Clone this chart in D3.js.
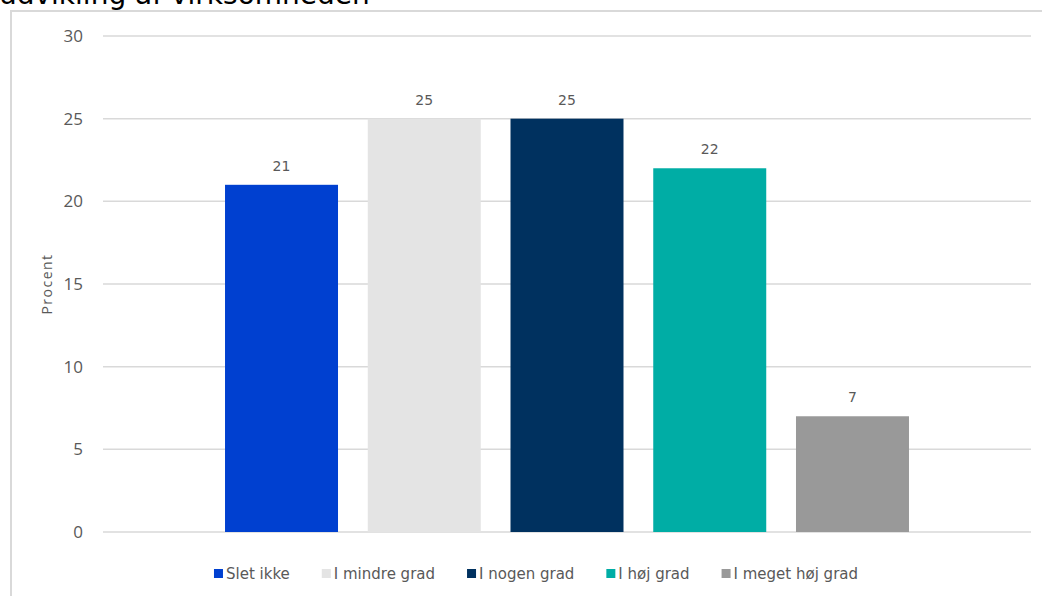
<!DOCTYPE html>
<html><head><meta charset="utf-8">
<script src="https://cdn.jsdelivr.net/npm/d3@7"></script>
<style>body{margin:0;background:#fff}svg{display:block}</style>
</head><body>
<script>
const titleText = "udvikling af virksomheden";
const seriesNames = ["Slet ikke","I mindre grad","I nogen grad","I høj grad","I meget høj grad"];
const seriesValues = [21,25,25,22,7];
const seriesColors = ["#0040D0","#E4E4E4","#00315F","#00ADA5","#999999"];
const yTicks = [0,5,10,15,20,25,30];
const yLabel = "Procent";

(function(){
const W=1042,H=596;
const svg=d3.select("body").append("svg").attr("width",W).attr("height",H);

svg.append("rect").attr("x",11).attr("y",11).attr("width",1100).attr("height",700)
  .attr("fill","#fff").attr("stroke","#d9d9d9").attr("stroke-width",2);

svg.append("text").attr("x",-1).attr("y",4).attr("font-family","DejaVu Sans").attr("font-size",28)
  .attr("fill","#000").text(titleText);

const pL=103,pR=1031,pT=36,pB=532;
const y=d3.scaleLinear().domain([0,30]).range([pB,pT]);
const xCat=d3.scaleBand().domain(["all"]).range([pL,pR]).paddingOuter(0.1784);
const x=d3.scaleBand().domain(seriesNames).range([xCat("all"),xCat("all")+xCat.bandwidth()]).paddingInner(0.2084).paddingOuter(0);

svg.append("g").selectAll("line").data(yTicks).join("line")
  .attr("x1",pL).attr("x2",pR).attr("y1",d=>y(d)).attr("y2",d=>y(d))
  .attr("stroke","#d9d9d9").attr("stroke-width",1.5);

const yAxis=svg.append("g").attr("transform",`translate(${pL},0)`)
  .call(d3.axisLeft(y).tickValues(yTicks).tickSize(0).tickPadding(20));
yAxis.select(".domain").remove();
yAxis.selectAll("text").attr("font-family","Open Sans").attr("font-size",17).attr("fill","#595959");

svg.append("text").attr("transform",`translate(52,${(pT+pB)/2}) rotate(-90)`)
  .attr("text-anchor","middle").attr("font-family","Open Sans").attr("font-size",14)
  .attr("letter-spacing",1.5).attr("fill","#595959").text(yLabel);

const data=seriesNames.map((n,i)=>({n,v:seriesValues[i],c:seriesColors[i]}));
svg.append("g").selectAll("rect").data(data).join("rect")
  .attr("x",d=>x(d.n)).attr("width",x.bandwidth())
  .attr("y",d=>y(d.v)).attr("height",d=>y(0)-y(d.v)).attr("fill",d=>d.c);

svg.append("g").selectAll("text").data(data).join("text")
  .attr("x",d=>x(d.n)+x.bandwidth()/2).attr("y",d=>y(d.v)-14)
  .attr("text-anchor","middle").attr("font-family","DejaVu Sans").attr("font-size",14)
  .attr("fill","#595959").text(d=>d.v);

const lg=svg.append("g");
const items=lg.selectAll("g").data(data).join("g");
items.append("rect").attr("width",9).attr("height",9).attr("y",-10).attr("fill",d=>d.c);
items.append("text").attr("x",12).attr("y",0).attr("font-family","DejaVu Sans").attr("font-size",15)
  .attr("fill","#595959").text(d=>d.n);
let cx=0;
items.each(function(){
  const w=this.getBBox().width;
  d3.select(this).attr("transform",`translate(${cx},0)`);
  cx+=w+32;
});
const total=cx-32;
lg.attr("transform",`translate(${536-total/2},579)`);
})();
</script>
</body></html>
